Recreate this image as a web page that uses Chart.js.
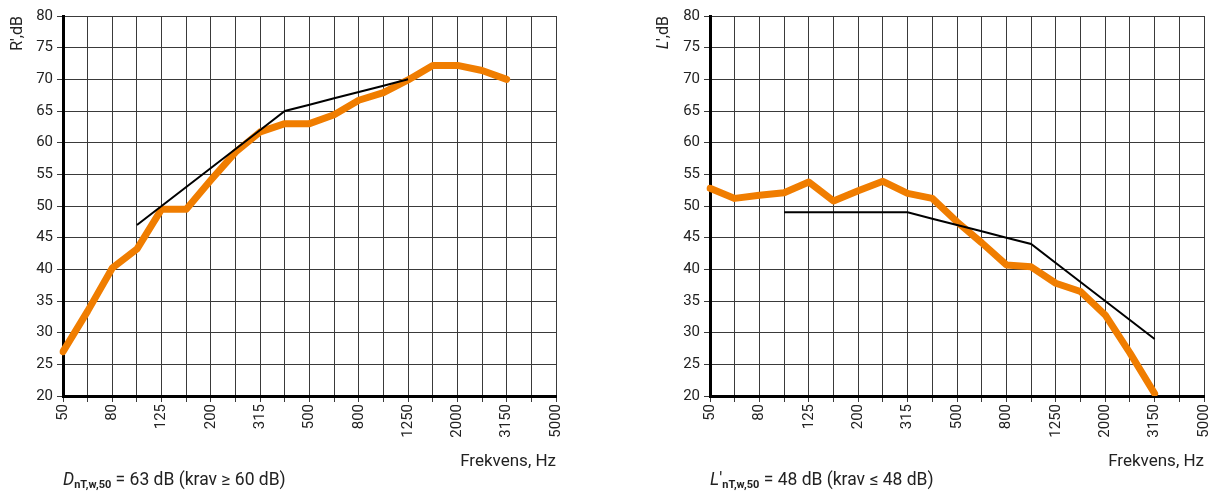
<!DOCTYPE html>
<html lang="no">
<head>
<meta charset="UTF-8">
<title>Lydisolasjon – R' og L'</title>
<script src="https://cdn.jsdelivr.net/npm/chart.js"></script>
<style>
  body { margin: 0; background: #fff; font-family: Roboto, sans-serif; overflow: hidden; }
  .wrap { position: relative; width: 1210px; height: 491px; overflow: hidden; }
  canvas { position: absolute; top: 0; }
  .note { position: absolute; top: 469px; font-size: 17.5px; line-height: 20px; color: #222; white-space: nowrap; }
  .note sub { font-size: 11px; font-weight: bold; vertical-align: -3px; }
</style>
</head>
<body>
<div class="wrap">
  <canvas id="airChart" width="605" height="491" style="left:0"></canvas>
  <canvas id="impactChart" width="619" height="491" style="left:605px"></canvas>
  <div class="note" style="left:63px"><i>D</i><sub>nT,w,50</sub> = 63 dB (krav ≥ 60 dB)</div>
  <div class="note" style="left:710px"><i>L</i>′<sub>nT,w,50</sub> = 48 dB (krav ≤ 48 dB)</div>
</div>

<script>
// third-octave bands, Hz
const bands = ['50','63','80','100','125','160','200','250','315','400','500','630',
               '800','1000','1250','1600','2000','2500','3150','4000','5000'];

// airborne sound insulation R', dB
const airMeasured  = [27, 33.4, 40.2, 43.2, 49.5, 49.5, 54.1, 58.5, 61.7, 63, 63, 64.4,
                      66.7, 67.9, 69.9, 72.2, 72.2, 71.4, 70, null, null];
const airReference = [null, null, null, 47, 50, 53, 56, 59, 62, 65, 66, 67,
                      68, 69, 70, null, null, null, null, null, null];

// impact sound level L', dB
const impactMeasured  = [52.8, 51.2, 51.7, 52.1, 53.8, 50.8, 52.4, 53.9, 52, 51.2, 47.5, 44.2,
                         40.7, 40.4, 37.8, 36.5, 32.8, 26.8, 20.4, null, null];
const impactReference = [null, null, null, 49, 49, 49, 49, 49, 49, 48, 47, 46,
                         45, 44, 41, 38, 35, 32, 29, null, null];

const gridColor = '#3a3a3a';
const textColor = '#222';

// y title with an italic first letter (L′,dB), drawn rotated left of the axis
const italicTitle = {
  id: 'italicTitle',
  afterDraw(chart, args, opts) {
    if (!opts.text) return;
    const c = chart.ctx;
    const y = chart.scales.y;
    c.save();
    c.translate(y.left + 17, y.top);
    c.rotate(-Math.PI / 2);
    c.fillStyle = textColor;
    c.textBaseline = 'middle';
    c.textAlign = 'left';
    c.font = 'italic 16px Roboto';
    const w1 = c.measureText(opts.first).width;
    c.font = '16px Roboto';
    const w2 = c.measureText(opts.text).width;
    let x = -(w1 + w2);
    c.font = 'italic 16px Roboto';
    c.fillText(opts.first, x, 0);
    c.font = '16px Roboto';
    c.fillText(opts.text, x + w1, 0);
    c.restore();
  }
};

function makeChart(id, yTitle, titleParts, measured, reference, padLeft, padRight) {
  const ctx = document.getElementById(id).getContext('2d');
  return new Chart(ctx, {
    type: 'line',
    data: {
      labels: bands,
      datasets: [
        {
          data: measured,
          borderColor: '#F07D00',
          borderWidth: 7,
          borderCapStyle: 'round',
          borderJoinStyle: 'round',
          pointRadius: 0,
          tension: 0,
          order: 1
        },
        {
          data: reference,
          borderColor: '#000',
          borderWidth: 2,
          pointRadius: 0,
          tension: 0,
          order: 0
        }
      ]
    },
    plugins: [italicTitle],
    options: {
      responsive: false,
      animation: false,
      layout: { padding: { left: padLeft, right: padRight, top: 16, bottom: 19 } },
      plugins: {
        legend: { display: false },
        tooltip: { enabled: false },
        italicTitle: titleParts || {}
      },
      scales: {
        x: {
          type: 'category',
          offset: false,
          grid: { color: gridColor, lineWidth: 1, tickLength: 6 },
          border: { color: '#000', width: 3 },
          ticks: {
            autoSkip: false, maxRotation: 90, minRotation: 90, padding: 2,
            color: textColor, font: { family: 'Roboto', size: 15 },
            callback: (v, i) => i % 2 === 0 ? bands[i] : ''
          },
          title: {
            display: true, text: 'Frekvens, Hz', align: 'end', color: textColor,
            font: { family: 'Roboto', size: 17 }, padding: { top: 4, bottom: 0 }
          },
          afterFit: s => { s.height = 76; }
        },
        y: {
          min: 20, max: 80,
          grid: { color: gridColor, lineWidth: 1, tickLength: 6 },
          border: { color: '#000', width: 3 },
          ticks: { stepSize: 5, padding: 4, color: textColor, font: { family: 'Roboto', size: 15 } },
          title: {
            display: !!yTitle, text: yTitle, align: 'end', color: textColor,
            font: { family: 'Roboto', size: 16 }, padding: { top: 8, bottom: 2 }
          },
          afterFit: s => { s.width = 63; }
        }
      }
    }
  });
}

makeChart('airChart', "R',dB", null, airMeasured, airReference, 0, 49);
makeChart('impactChart', '', { first: 'L', text: '′,dB' }, impactMeasured, impactReference, 42, 0);
</script>
</body>
</html>
